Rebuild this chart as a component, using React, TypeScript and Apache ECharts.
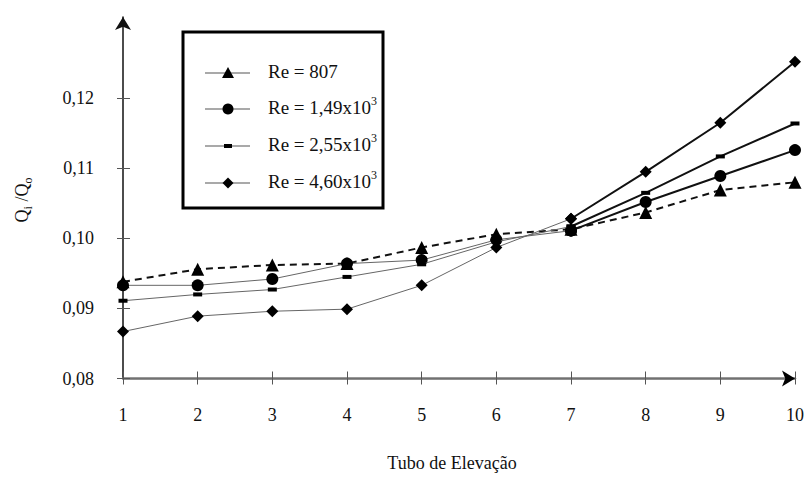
import React, { useEffect, useRef } from "react";
import * as echarts from "echarts";

// ---- data ----
const tubes = [1, 2, 3, 4, 5, 6, 7, 8, 9, 10];
const re807 = [0.0938, 0.0956, 0.0962, 0.0964, 0.0987, 0.1006, 0.1013, 0.1037, 0.1069, 0.108];
const re149 = [0.0933, 0.0933, 0.0942, 0.0964, 0.0969, 0.0998, 0.1011, 0.1052, 0.1089, 0.1126];
const re255 = [0.0911, 0.092, 0.0927, 0.0945, 0.0963, 0.0995, 0.1017, 0.1065, 0.1117, 0.1164];
const re460 = [0.0867, 0.0889, 0.0896, 0.0899, 0.0933, 0.0987, 0.1028, 0.1095, 0.1165, 0.1252];
const yTicks = [0.08, 0.09, 0.1, 0.11, 0.12];
const legendMain = ["Re = 807", "Re = 1,49x10", "Re = 2,55x10", "Re = 4,60x10"];
const legendSup = ["", "3", "3", "3"];
const xTitle = "Tubo de Elevação";

const FONT = '"Liberation Serif", "Times New Roman", serif';

const pts = (arr: number[], from: number, to: number) =>
  tubes.slice(from, to).map((x, i) => [x, arr[from + i]]);

export default function App() {
  const ref = useRef<HTMLDivElement>(null);

  useEffect(() => {
    if (!ref.current) return;
    const chart = echarts.init(ref.current, undefined, { renderer: "svg" });

    const solidDefs = [
      { name: "Re = 1,49x10³", data: re149, symbol: "circle", size: 12 as any },
      { name: "Re = 2,55x10³", data: re255, symbol: "rect", size: [9, 4] as any },
      { name: "Re = 4,60x10³", data: re460, symbol: "diamond", size: [12, 12] as any },
    ];

    const series: any[] = [
      {
        name: "Re = 807",
        type: "line",
        data: pts(re807, 0, 10),
        symbol: "triangle",
        symbolSize: 13,
        lineStyle: { type: [7, 5], width: 2, color: "#111" },
        itemStyle: { color: "#000" },
        z: 3,
      },
    ];
    solidDefs.forEach((d, k) => {
      series.push({
        name: d.name,
        type: "line",
        data: pts(d.data, 0, 7),
        symbol: d.symbol,
        symbolSize: d.size,
        lineStyle: { width: 1, color: "#666" },
        itemStyle: { color: "#000" },
        z: 4 + k,
      });
      series.push({
        name: d.name + " (b)",
        type: "line",
        data: pts(d.data, 6, 10),
        symbol: d.symbol,
        symbolSize: d.size,
        lineStyle: { width: 2, color: "#111" },
        itemStyle: { color: "#000" },
        z: 4 + k,
      });
    });

    const tickStyle = { color: "#555", width: 1 };
    const rowsLine = [73, 109, 146, 183];
    const graphicEls: any[] = [
      {
        type: "rect",
        shape: { x: 183, y: 32, width: 200, height: 176 },
        style: { fill: "#fff", stroke: "#000", lineWidth: 3 },
        z: 100,
      },
    ];
    const rich = {
      a: { fontSize: 19, fontFamily: FONT, lineHeight: 24, fill: "#111" },
      p: { fontSize: 12, fontFamily: FONT, lineHeight: 12, verticalAlign: "top", fill: "#111" },
    };
    rowsLine.forEach((y, i) => {
      graphicEls.push({
        type: "line",
        shape: { x1: 205, y1: y, x2: 250, y2: y },
        style: { stroke: "#555", lineWidth: 1.2 },
        z: 101,
      });
      const cx = 228;
      if (i === 0) {
        graphicEls.push({
          type: "polygon",
          shape: { points: [[cx, y - 6], [cx - 6, y + 5], [cx + 6, y + 5]] },
          style: { fill: "#000" },
          z: 102,
        });
      } else if (i === 1) {
        graphicEls.push({ type: "circle", shape: { cx, cy: y, r: 5.5 }, style: { fill: "#000" }, z: 102 });
      } else if (i === 2) {
        graphicEls.push({
          type: "rect",
          shape: { x: cx - 4, y: y - 2, width: 8, height: 4 },
          style: { fill: "#000" },
          z: 102,
        });
      } else {
        graphicEls.push({
          type: "polygon",
          shape: { points: [[cx, y - 5.5], [cx + 5.5, y], [cx, y + 5.5], [cx - 5.5, y]] },
          style: { fill: "#000" },
          z: 102,
        });
      }
      const txt = legendSup[i] ? `{a|${legendMain[i]}}{p|${legendSup[i]}}` : `{a|${legendMain[i]}}`;
      graphicEls.push({
        type: "text",
        x: 268,
        y: y - 2,
        style: { text: txt, rich, align: "left", verticalAlign: "middle" },
        z: 102,
      });
    });

    // axis titles
    graphicEls.push({
      type: "text",
      x: 452,
      y: 463,
      style: { text: xTitle, fontSize: 18, fontFamily: FONT, fill: "#111", align: "center", verticalAlign: "middle" },
    });
    graphicEls.push({
      type: "text",
      x: 22,
      y: 200,
      rotation: Math.PI / 2,
      style: {
        text: "{a|Q}{s|i}{a| /Q}{s|o}",
        rich: {
          a: { fontSize: 18, fontFamily: FONT, lineHeight: 24, fill: "#111" },
          s: { fontSize: 12, fontFamily: FONT, lineHeight: 12, verticalAlign: "bottom", fill: "#111" },
        },
        align: "center",
        verticalAlign: "middle",
      },
    });

    const option: any = {
      animation: false,
      backgroundColor: "#fff",
      grid: { left: 123, right: 9, top: 17, bottom: 100.5 },
      xAxis: [
        {
          type: "value",
          min: 1,
          max: 10,
          interval: 1,
          position: "bottom",
          axisLine: {
            show: true,
            onZero: false,
            lineStyle: { color: "#777", width: 2.5 },
          },
          axisTick: { show: true, length: 6, lineStyle: tickStyle },
          axisLabel: { margin: 27, fontSize: 18, fontFamily: FONT, color: "#111" },
          splitLine: { show: false },
        },
        {
          type: "value",
          min: 1,
          max: 10,
          interval: 1,
          position: "bottom",
          axisLine: {
            show: true,
            onZero: false,
            lineStyle: { color: "#000", width: 0.1 },
            symbol: ["none", "arrow"],
            symbolSize: [12, 13],
          },
          axisTick: { show: true, inside: true, length: 7, lineStyle: tickStyle },
          axisLabel: { show: false },
          splitLine: { show: false },
        },
      ],
      yAxis: [
        {
          type: "value",
          min: 0.08,
          max: 0.1316,
          position: "left",
          axisLine: {
            show: true,
            onZero: false,
            lineStyle: { color: "#111", width: 1.5 },
            symbol: ["none", "arrow"],
            symbolSize: [12, 13],
          },
          axisTick: { show: true, length: 6, customValues: yTicks, lineStyle: tickStyle },
          axisLabel: {
            customValues: yTicks,
            margin: 29,
            fontSize: 18,
            fontFamily: FONT,
            color: "#111",
            formatter: (v: number) => v.toFixed(2).replace(".", ","),
          },
          splitLine: { show: false },
        },
        {
          type: "value",
          min: 0.08,
          max: 0.1316,
          position: "left",
          offset: 0,
          axisLine: { show: false, onZero: false },
          axisTick: { show: true, inside: true, length: 7, customValues: yTicks, lineStyle: tickStyle },
          axisLabel: { show: false },
          splitLine: { show: false },
        },
      ],
      series,
      graphic: { elements: graphicEls },
    };

    chart.setOption(option);
    return () => chart.dispose();
  }, []);

  return (
    <div
      ref={ref}
      style={{ position: "fixed", left: 0, top: 0, width: 807, height: 479, background: "#fff" }}
    />
  );
}
